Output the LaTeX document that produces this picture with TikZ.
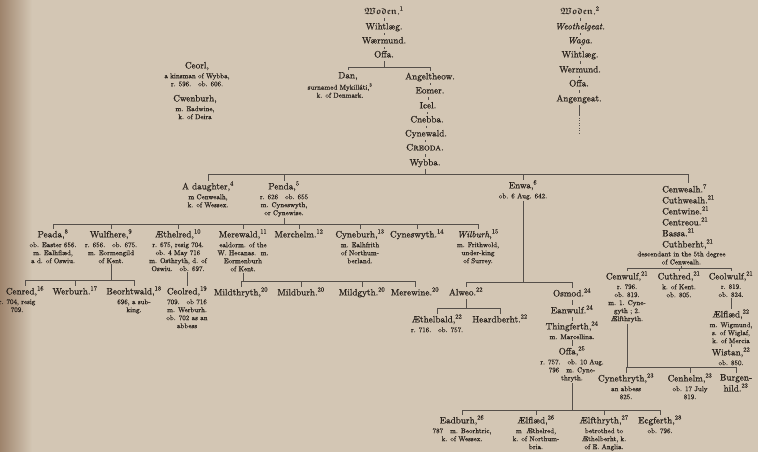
\documentclass[tikz,border=0pt]{standalone}
\usepackage{amsmath,amssymb}
\usepackage{fontspec}
\setmainfont{lmroman10-regular.otf}[
  ItalicFont=lmroman10-italic.otf,
  SmallCapsFont=lmromancaps10-regular.otf,
  FakeBold=0.8]
\usetikzlibrary{positioning}
\definecolor{page}{HTML}{D3C6B4}
\definecolor{gutter}{HTML}{9E846C}
\definecolor{ink}{HTML}{2A231D}
\newcommand{\gothname}[1]{$\boldsymbol{\mathfrak{#1}}$}

\begin{document}
\begin{tikzpicture}[
    x=1pt, y=-1pt,
    every node/.style={text=ink},
    person/.style={inner xsep=0pt, inner ysep=1.5pt, text height=6.8pt,
                 text depth=2pt, font=\fontsize{9.2}{11}\selectfont},
    stack/.style={inner sep=1pt, align=left, font=\fontsize{9.2}{11}\selectfont},
    note/.style={inner sep=1pt, align=center, font=\fontsize{7}{8}\selectfont},
    link/.style={draw=ink!80, line width=0.5pt},
  ]
  \fill[page] (0,0) rectangle (758,452);
  \shade[left color=gutter, right color=page] (0,0) rectangle (32,452);
  \useasboundingbox (0,0) rectangle (758,452);

  % line of Woden (1)
  \node[person] (woden1)    at (384,12) {\gothname{Woden}.\textsuperscript{1}};
  \node[person] (wihtlaeg1) at (384,27) {Wihtlæg.};
  \node[person] (waermund)  at (384,41) {Wærmund.};
  \node[person] (offa1)     at (384,55) {Offa.};
  \coordinate (bar1) at (384,67);
  \node[person] (dan)   at (348,76) {Dan,};
  \node[note, below=0pt of dan, xshift=-8pt] (dan-n)
    {surnamed Mykilláti,\textsuperscript{3}\\k. of Denmark.};
  \node[person] (angel)    at (430,77)  {Angeltheow.};
  \node[person] (eomer)    at (430,91)  {Eomer.};
  \node[person] (icel)     at (428,106) {Icel.};
  \node[person] (cnebba)   at (427,120) {Cnebba.};
  \node[person] (cynewald) at (426,134) {Cynewald.};
  \node[person] (creoda)   at (425,148) {\textsc{Creoda.}};
  \node[person] (wybba)    at (425,163) {Wybba.};

  \node[person] (ceorl) at (197,66) {Ceorl,};
  \node[note, below=0pt of ceorl] (ceorl-n)
    {a kinsman of Wybba,\\r. 596.\quad ob. 606.};
  \node[person] (cwenburh) at (195,99) {Cwenburh,};
  \node[note, below=0pt of cwenburh] (cwenburh-n) {m. Eadwine,\\k. of Deira};

  % line of Woden (2)
  \node[person] (woden2)    at (580,12) {\gothname{Woden}.\textsuperscript{2}};
  \node[person] (weothel)   at (580,27) {\textit{Weothelgeat.}};
  \node[person] (waga)      at (580,41) {\textit{Waga.}};
  \node[person] (wihtlaeg2) at (580,55) {Wihtlæg.};
  \node[person] (wermund)   at (580,70) {Wermund.};
  \node[person] (offa2)     at (579,84) {Offa.};
  \node[person] (angengeat) at (579,99) {Angengeat.};
  \coordinate (gap)  at (579,115);
  \coordinate (lost) at (579,134);

  % children of Wybba
  \coordinate (bar2) at (425,174);
  \node[person] (daughter) at (208,187) {A daughter,\textsuperscript{4}};
  \node[note, below=0pt of daughter] (daughter-n) {m Cenwealh,\\k. of Wessex.};
  \node[person] (penda) at (284,187) {Penda,\textsuperscript{5}};
  \node[note, below=0pt of penda] (penda-n)
    {r. 626\quad ob. 655\\m. Cyneswyth,\\or Cynewise.};
  \node[person] (enwa) at (523,186) {Enwa,\textsuperscript{6}};
  \node[note, below=0pt of enwa] (enwa-n) {ob. 6 Aug. 642.};
  \node[stack, anchor=north west] (cenwealh) at (661,183)
    {Cenwealh.\textsuperscript{7}\\Cuthwealh.\textsuperscript{21}\\Centwine.\textsuperscript{21}\\
     Centreou.\textsuperscript{21}\\Bassa.\textsuperscript{21}\\Cuthberht,\textsuperscript{21}};
  \node[note, below=0pt of cenwealh, xshift=-7pt] (cenwealh-n)
    {descendant in the 5th degree\\of Cenwealh.};

  % children of Penda
  \coordinate (bar3) at (284,224);
  \node[person] (peada) at (53,235) {Peada,\textsuperscript{8}};
  \node[note, below=0pt of peada] (peada-n)
    {ob. Easter 656.\\m. Ealhflæd,\\a d. of Oswiu.};
  \node[person] (wulfhere) at (111,235) {Wulfhere,\textsuperscript{9}};
  \node[note, below=0pt of wulfhere] (wulfhere-n)
    {r. 656.\quad ob. 675.\\m. Eormengild\\of Kent.};
  \node[person] (aethelred) at (178,235) {Æthelred,\textsuperscript{10}};
  \node[note, below=0pt of aethelred] (aethelred-n)
    {r. 675, resig 704.\\ob. 4 May 716\\m. Osthryth, d. of\\Oswiu.\quad ob. 697.};
  \node[person] (merewald) at (243,235) {Merewald,\textsuperscript{11}};
  \node[note, below=0pt of merewald] (merewald-n)
    {ealdorm. of the\\W. Hecanas.\ \ m.\\Eormenburh\\of Kent.};
  \node[person] (merchelm) at (299,235) {Merchelm.\textsuperscript{12}};
  \node[person] (cyneburh) at (360,235) {Cyneburh,\textsuperscript{13}};
  \node[note, below=0pt of cyneburh] (cyneburh-n)
    {m. Ealhfrith\\of Northum-\\berland.};
  \node[person] (cyneswyth) at (417,235) {Cyneswyth.\textsuperscript{14}};
  \node[person] (wilburh) at (478,235) {\textit{Wilburh},\textsuperscript{15}};
  \node[note, below=0pt of wilburh] (wilburh-n)
    {m. Frithwold,\\under-king\\of Surrey.};

  % children of Wulfhere, Aethelred, Merewald
  \coordinate (bar4) at (111,280);
  \node[person] (cenred) at (25,292) {Cenred,\textsuperscript{16}};
  \node[note, below=0pt of cenred, xshift=-8pt] (cenred-n) {r. 704, resig\\709.};
  \node[person] (werburh) at (75,292) {Werburh.\textsuperscript{17}};
  \node[person] (beorhtwald) at (134,292) {Beorhtwald,\textsuperscript{18}};
  \node[note, below=0pt of beorhtwald] (beorhtwald-n) {696, a sub-\\king.};
  \node[person] (ceolred) at (187,292) {Ceolred,\textsuperscript{19}};
  \node[note, below=0pt of ceolred] (ceolred-n)
    {709.\quad ob 716\\m. Werburh.\\ob. 702 as an\\abbess};
  \coordinate (bar5) at (243,281);
  \node[person] (mildthryth) at (241,293) {Mildthryth,\textsuperscript{20}};
  \node[person] (mildburh)   at (301,293) {Mildburh.\textsuperscript{20}};
  \node[person] (mildgyth)   at (362,293) {Mildgyth.\textsuperscript{20}};
  \node[person] (merewine)   at (415,293) {Merewine.\textsuperscript{20}};

  % children of Enwa
  \coordinate (bar6) at (523,282);
  \node[person] (alweo) at (466,293) {Alweo.\textsuperscript{22}};
  \coordinate (bar7) at (466,308);
  \node[person] (aethelbald) at (437,320) {Æthelbald,\textsuperscript{22}};
  \node[note, below=0pt of aethelbald] (aethelbald-n) {r. 716.\quad ob. 757.};
  \node[person] (heardberht) at (500,320) {Heardberht.\textsuperscript{22}};
  \node[person] (osmod)      at (572,294) {Osmod.\textsuperscript{24}};
  \node[person] (eanwulf)    at (572,311) {Eanwulf.\textsuperscript{24}};
  \node[person] (thingferth) at (572,327) {Thingferth,\textsuperscript{24}};
  \node[note, below=0pt of thingferth] (thingferth-n) {m. Marcellina.};
  \node[person] (offa3) at (572,352) {Offa,\textsuperscript{25}};
  \node[note, below=0pt of offa3] (offa3-n)
    {r. 757.\quad ob. 10 Aug.\\796\quad m. Cyne-\\thryth.};

  % children of Offa
  \coordinate (bar8) at (572,410);
  \node[person] (eadburh) at (462,421) {Eadburh,\textsuperscript{26}};
  \node[note, below=0pt of eadburh] (eadburh-n) {787\quad m. Beorhtric,\\k. of Wessex.};
  \node[person] (aelflaed1) at (536,421) {Ælflæd,\textsuperscript{26}};
  \node[note, below=0pt of aelflaed1] (aelflaed1-n) {m\ \ Æthelred,\\k. of Northum-\\bria.};
  \node[person] (aelfthryth) at (604,421) {Ælfthryth,\textsuperscript{27}};
  \node[note, below=0pt of aelfthryth] (aelfthryth-n)
    {betrothed to\\Æthelberht, k.\\of E. Anglia.};
  \node[person] (ecgferth) at (660,421) {Ecgferth,\textsuperscript{28}};
  \node[note, below=0pt of ecgferth] (ecgferth-n) {ob. 796.};

  % descendants of Cuthberht
  \coordinate (bar9) at (681,268);
  \node[person] (cenwulf) at (627,277) {Cenwulf,\textsuperscript{21}};
  \node[note, below=0pt of cenwulf] (cenwulf-n)
    {r. 796.\\ob. 819.\\m. 1. Cyne-\\gyth ; 2.\\Ælfthryth.};
  \node[person] (cuthred) at (679,277) {Cuthred,\textsuperscript{21}};
  \node[note, below=0pt of cuthred] (cuthred-n) {k. of Kent.\\ob. 805.};
  \node[person] (ceolwulf) at (731,277) {Ceolwulf,\textsuperscript{21}};
  \node[note, below=0pt of ceolwulf] (ceolwulf-n) {r. 819.\\ob. 824.};
  \node[person] (aelflaed2) at (731,315) {Ælflæd,\textsuperscript{22}};
  \node[note, below=0pt of aelflaed2] (aelflaed2-n)
    {m. Wigmund,\\s. of Wiglaf,\\k. of Mercia};
  \node[person] (wistan) at (731,353) {Wistan,\textsuperscript{22}};
  \node[note, below=0pt of wistan] (wistan-n) {ob. 850.};
  \coordinate (bar10) at (627,367);
  \node[person] (cynethryth) at (626,379) {Cynethryth,\textsuperscript{23}};
  \node[note, below=0pt of cynethryth] (cynethryth-n) {an abbess\\825.};
  \node[person] (cenhelm) at (690,379) {Cenhelm,\textsuperscript{23}};
  \node[note, below=0pt of cenhelm] (cenhelm-n) {ob. 17 July\\819.};
  \node[stack, align=center, anchor=north] (burgenhild) at (736,373)
    {Burgen-\\hild.\textsuperscript{23}};

  % straight descents
  \foreach \a/\b in {woden1/wihtlaeg1, wihtlaeg1/waermund, waermund/offa1,
      angel/eomer, eomer/icel, icel/cnebba, cnebba/cynewald, cynewald/creoda,
      creoda/wybba, woden2/weothel, weothel/waga, waga/wihtlaeg2,
      wihtlaeg2/wermund, wermund/offa2, offa2/angengeat, osmod/eanwulf,
      eanwulf/thingferth, thingferth-n/offa3, aethelred-n/ceolred,
      ceolwulf-n/aelflaed2, aelflaed2-n/wistan}
    \draw[link] (\b.north) -- (\b.north |- \a.south);
  \draw[link] (angengeat.south) -- (gap);
  \draw[link, dotted] (gap) -- (lost);

  % forks
  \draw[link] (offa1.south) -- (offa1.south |- bar1);
  \draw[link] (dan.north |- bar1) -- (angel.north |- bar1);
  \foreach \c in {dan, angel} \draw[link] (\c.north) -- (\c.north |- bar1);

  \draw[link] (wybba.south) -- (wybba.south |- bar2);
  \draw[link] (daughter.north |- bar2) -- (cenwealh.north |- bar2);
  \foreach \c in {daughter, penda, enwa, cenwealh}
    \draw[link] (\c.north) -- (\c.north |- bar2);

  \draw[link] (penda-n.south) -- (penda-n.south |- bar3);
  \draw[link] (peada.north |- bar3) -- (wilburh.north |- bar3);
  \foreach \c in {peada, wulfhere, aethelred, merewald, merchelm, cyneburh,
      cyneswyth, wilburh}
    \draw[link] (\c.north) -- (\c.north |- bar3);

  \draw[link] (wulfhere-n.south) -- (wulfhere-n.south |- bar4);
  \draw[link] (cenred.north |- bar4) -- (beorhtwald.north |- bar4);
  \foreach \c in {cenred, werburh, beorhtwald}
    \draw[link] (\c.north) -- (\c.north |- bar4);

  \draw[link] (merewald-n.south) -- (merewald-n.south |- bar5);
  \draw[link] (mildthryth.north |- bar5) -- (merewine.north |- bar5);
  \foreach \c in {mildthryth, mildburh, mildgyth, merewine}
    \draw[link] (\c.north) -- (\c.north |- bar5);

  \draw[link] (enwa-n.south) -- (enwa-n.south |- bar6);
  \draw[link] (alweo.north |- bar6) -- (osmod.north |- bar6);
  \foreach \c in {alweo, osmod} \draw[link] (\c.north) -- (\c.north |- bar6);

  \draw[link] (alweo.south) -- (alweo.south |- bar7);
  \draw[link] (aethelbald.north |- bar7) -- (heardberht.north |- bar7);
  \foreach \c in {aethelbald, heardberht}
    \draw[link] (\c.north) -- (\c.north |- bar7);

  \draw[link] (offa3-n.south) -- (offa3-n.south |- bar8);
  \draw[link] (eadburh.north |- bar8) -- (ecgferth.north |- bar8);
  \foreach \c in {eadburh, aelflaed1, aelfthryth, ecgferth}
    \draw[link] (\c.north) -- (\c.north |- bar8);

  \draw[link] (cenwealh-n.south) -- (cenwealh-n.south |- bar9);
  \draw[link] (cenwulf.north |- bar9) -- (ceolwulf.north |- bar9);
  \foreach \c in {cenwulf, cuthred, ceolwulf}
    \draw[link] (\c.north) -- (\c.north |- bar9);

  \draw[link] (cenwulf-n.south) -- (cenwulf-n.south |- bar10);
  \draw[link] (cynethryth.north |- bar10) -- (burgenhild.north |- bar10);
  \foreach \c in {cynethryth, cenhelm, burgenhild}
    \draw[link] (\c.north) -- (\c.north |- bar10);
\end{tikzpicture}
\end{document}
